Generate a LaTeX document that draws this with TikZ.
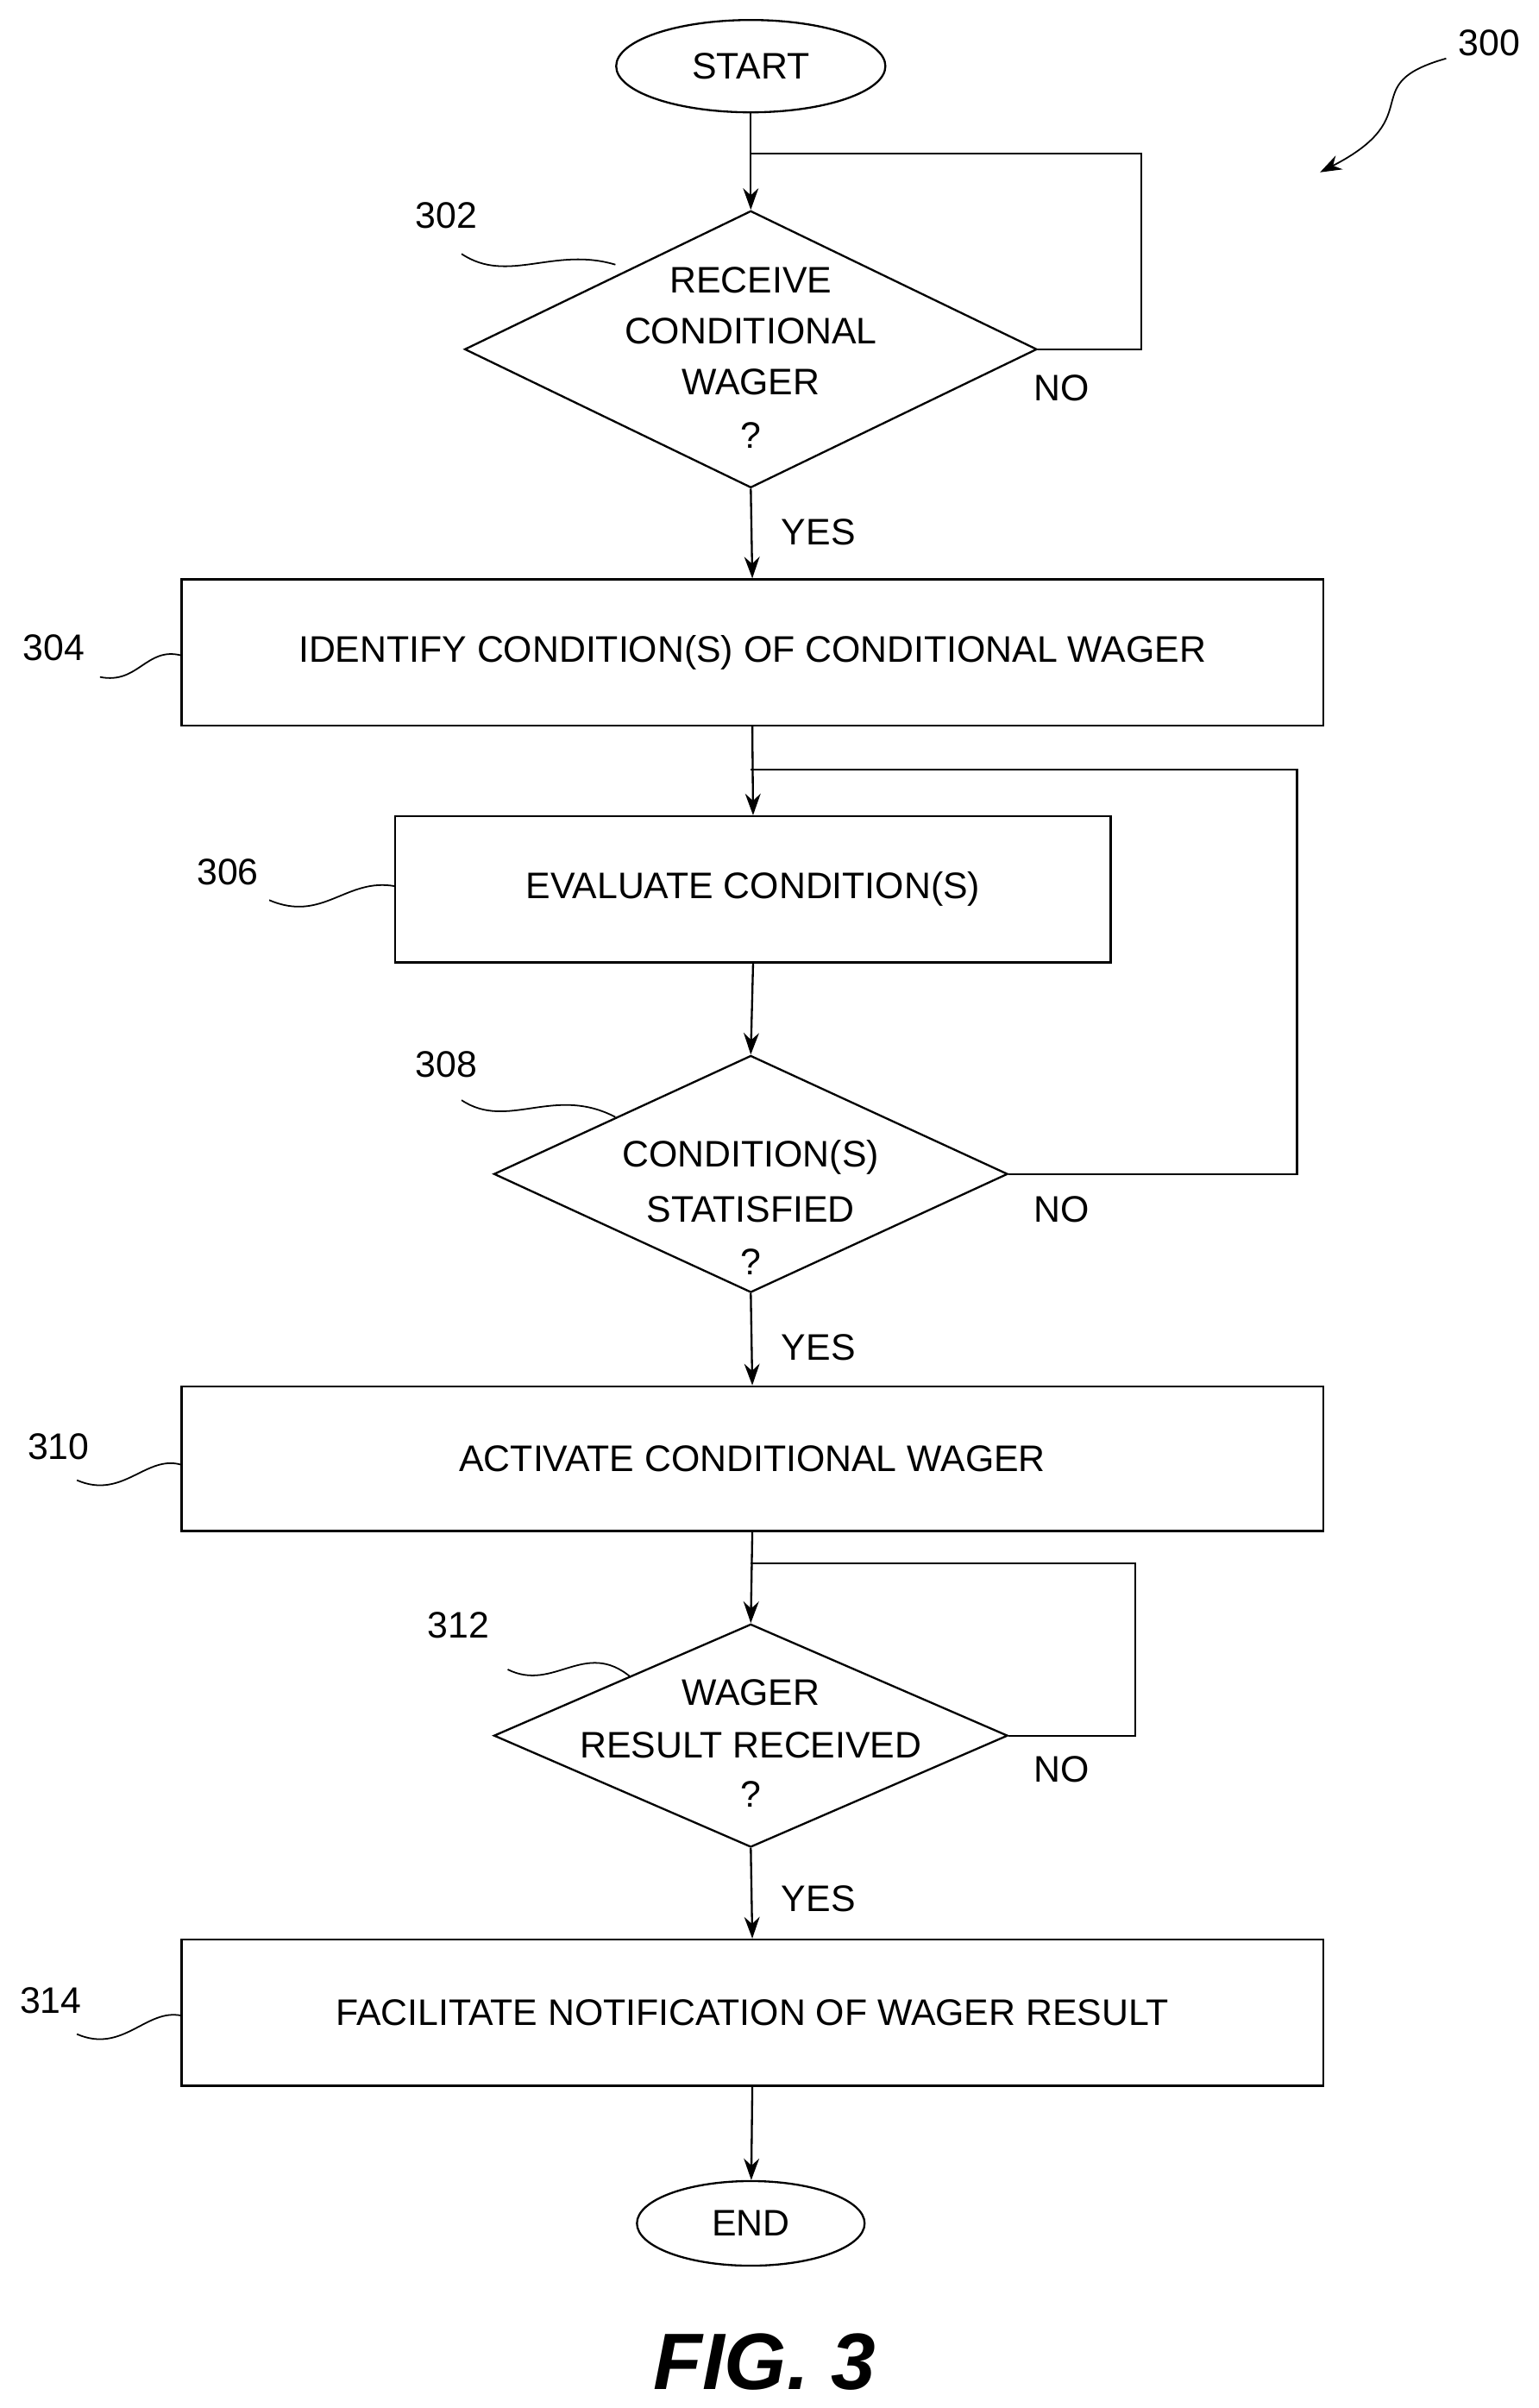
\documentclass[tikz,border=0pt]{standalone}
\usepackage{fontspec}
\setmainfont{Liberation Sans}
\usetikzlibrary{shapes.geometric,arrows.meta}
\begin{document}
\begin{tikzpicture}[x=1pt,y=-1pt,
  every node/.style={font=\fontsize{24}{33}\selectfont},
  box/.style={draw,line width=1.3pt,minimum height=95pt,inner sep=0pt},
  dia/.style={draw,line width=1.3pt,diamond,inner sep=0pt,align=center},
  term/.style={draw,line width=1.3pt,ellipse,inner sep=0pt},
  line/.style={line width=1.3pt},
  arr/.style={line width=1.3pt,-{Stealth[length=14pt,width=10pt]}},
  lbl/.style={font=\fontsize{24}{28}\selectfont}]
\useasboundingbox (0,0) rectangle (1000,1565);
\node[term,minimum width=175pt,minimum height=60pt] (start) at (488,43) {START};
\node[dia,minimum width=372pt,minimum height=180pt] (d302) at (488,227) {};
\node at (488,182) {RECEIVE};
\node at (488,215) {CONDITIONAL};
\node at (488,248) {WAGER};
\node at (488,283) {?};
\node[box,minimum width=742pt] (b304) at (489,424) {IDENTIFY CONDITION(S) OF CONDITIONAL WAGER};
\node[box,minimum width=465pt] (b306) at (489.5,578) {EVALUATE CONDITION(S)};
\node[dia,minimum width=334pt,minimum height=154pt] (d308) at (488,763) {};
\node at (488,752) {CONDITION(S)};
\node at (488,786) {STATISFIED};
\node at (488,820) {?};
\node[box,minimum width=742pt,minimum height=94pt] (b310) at (489,948) {ACTIVATE CONDITIONAL WAGER};
\node[dia,minimum width=334pt,minimum height=145pt] (d312) at (488,1128) {};
\node at (488,1100) {WAGER};
\node at (488,1134) {RESULT RECEIVED};
\node at (488,1166) {?};
\node[box,minimum width=742pt] (b314) at (489,1308) {FACILITATE NOTIFICATION OF WAGER RESULT};
\node[term,minimum width=148pt,minimum height=55pt] (end) at (488,1445) {END};
% loops
\coordinate (j1) at (488,100);
\coordinate (j2) at (488,500);
\coordinate (j3) at (488,1016);
\draw[arr] (start) -- (d302.north);
\draw[line] (d302.east) -- (742,227) -- (742,100) -- (j1);
\draw[arr] (d302.south) -- (b304.north);
\draw[arr] (b304.south) -- (b306.north);
\draw[line] (d308.east) -- (843,763) -- (843,500) -- (j2);
\draw[arr] (b306.south) -- (d308.north);
\draw[arr] (d308.south) -- (b310.north);
\draw[line] (d312.east) -- (738,1128) -- (738,1016) -- (j3);
\draw[arr] (b310.south) -- (d312.north);
\draw[arr] (d312.south) -- (b314.north);
\draw[arr] (b314.south) -- (end);
\node at (690,252) {NO};
\node at (532,346) {YES};
\node at (690,786) {NO};
\node at (532,876) {YES};
\node at (690,1150) {NO};
\node at (532,1234) {YES};
% reference labels
\node[lbl] (l300) at (968,28) {300};
\coordinate (a300) at (858,112);
\draw[arr,line width=1pt] (940,38) .. controls (880,55) and (930,75) .. (a300);
\node[lbl] (l302) at (290,140) {302};
\coordinate (e302) at (400,172);
\draw[line,line width=1pt] (300,165) .. controls (330,185) and (360,160) .. (e302);
\node[lbl] (l304) at (35,421) {304};
\coordinate (e304) at (118,426);
\draw[line,line width=1pt] (65,440) .. controls (90,445) and (95,420) .. (e304);
\node[lbl] (l306) at (148,567) {306};
\coordinate (e306) at (257,576);
\draw[line,line width=1pt] (175,585) .. controls (210,600) and (225,570) .. (e306);
\node[lbl] (l308) at (290,692) {308};
\coordinate (e308) at (400,726);
\draw[line,line width=1pt] (300,715) .. controls (330,735) and (360,705) .. (e308);
\node[lbl] (l310) at (38,940) {310};
\coordinate (e310) at (118,952);
\draw[line,line width=1pt] (50,962) .. controls (80,975) and (95,945) .. (e310);
\node[lbl] (l312) at (298,1056) {312};
\coordinate (e312) at (410,1090);
\draw[line,line width=1pt] (330,1085) .. controls (360,1100) and (380,1065) .. (e312);
\node[lbl] (l314) at (33,1300) {314};
\coordinate (e314) at (118,1310);
\draw[line,line width=1pt] (50,1322) .. controls (80,1335) and (95,1305) .. (e314);
\node[font=\fontsize{52}{60}\selectfont\bfseries\itshape] (fig) at (497,1535) {FIG. 3};
\end{tikzpicture}
\end{document}
